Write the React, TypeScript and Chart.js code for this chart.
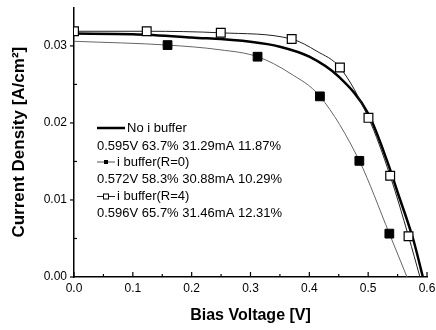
import React, { useEffect, useRef } from 'react';
import { Chart, registerables } from 'chart.js';
Chart.register(...registerables);

// ---- Data ----
const noBufferV = [0, 0.1, 0.2, 0.3, 0.35, 0.4, 0.45, 0.5, 0.532, 0.55, 0.577, 0.593];
const noBufferJ = [0.0316, 0.03153, 0.0311, 0.03054, 0.0299, 0.0286, 0.026, 0.0212, 0.0151, 0.011, 0.00477, 0];

const r0V = [0, 0.159, 0.248, 0.312, 0.367, 0.418, 0.485, 0.536, 0.566];
const r0J = [0.0306, 0.03011, 0.0295, 0.0286, 0.02646, 0.02345, 0.01508, 0.00563, 0];
const r0Marker = [0, 1, 0, 1, 0, 1, 1, 1, 0];

const r4V = [0, 0.1236, 0.2495, 0.37, 0.413, 0.452, 0.5005, 0.5374, 0.5686, 0.588];
const r4J = [0.0319, 0.0319, 0.0317, 0.03089, 0.0293, 0.02719, 0.02066, 0.01314, 0.00528, 0];
const r4Marker = [1, 1, 1, 1, 0, 1, 1, 1, 1, 0];

const seriesNames = ['No i buffer', 'i buffer(R=0)', 'i buffer(R=4)'];
const seriesStats = [
  '0.595V 63.7% 31.29mA 11.87%',
  '0.572V 58.3% 30.88mA 10.29%',
  '0.596V 65.7% 31.46mA 12.31%',
];

const xTicks = [0, 0.1, 0.2, 0.3, 0.4, 0.5, 0.6];
const xMinorTicks = [0.05, 0.15, 0.25, 0.35, 0.45, 0.55];
const yTicks = [0, 0.01, 0.02, 0.03];
const yMinorTicks = [0.005, 0.015, 0.025];

const xTitle = 'Bias Voltage [V]';
const yTitle = 'Current Density [A/cm\u00B2]';

const FONT = 'Arial, "Liberation Sans", Helvetica, sans-serif';

const toPoints = (xs: number[], ys: number[]) => xs.map((x, i) => ({ x, y: ys[i] }));

const tickPlugin = {
  id: 'tickMarks',
  afterDraw(chart: any) {
    const { ctx, chartArea } = chart;
    const xs = chart.scales.x;
    const ys = chart.scales.y;
    ctx.save();
    ctx.strokeStyle = '#000';
    ctx.lineWidth = 1.2;
    const seg = (x1: number, y1: number, x2: number, y2: number) => {
      ctx.beginPath();
      ctx.moveTo(x1, y1);
      ctx.lineTo(x2, y2);
      ctx.stroke();
    };
    xTicks.forEach((v) => {
      const p = xs.getPixelForValue(v);
      seg(p, chartArea.bottom, p, chartArea.bottom - 5);
    });
    xMinorTicks.forEach((v) => {
      const p = xs.getPixelForValue(v);
      seg(p, chartArea.bottom, p, chartArea.bottom - 3);
    });
    yTicks.forEach((v) => {
      const p = ys.getPixelForValue(v);
      seg(chartArea.left - 4, p, chartArea.left, p);
    });
    yMinorTicks.forEach((v) => {
      const p = ys.getPixelForValue(v);
      seg(chartArea.left, p, chartArea.left + 3, p);
    });
    ctx.restore();
  },
};

const legendPlugin = {
  id: 'customLegend',
  afterDraw(chart: any) {
    const { ctx } = chart;
    ctx.save();
    ctx.font = `13px ${FONT}`;
    ctx.fillStyle = '#000';
    ctx.textBaseline = 'middle';
    ctx.textAlign = 'left';
    const x0 = 97;
    const rows = [128, 146.5, 162, 179.5, 196.5, 213.5];
    // No i buffer
    ctx.strokeStyle = '#000';
    ctx.lineWidth = 2.5;
    ctx.beginPath();
    ctx.moveTo(x0, rows[0]);
    ctx.lineTo(125, rows[0]);
    ctx.stroke();
    ctx.fillText(seriesNames[0], 127, rows[0]);
    ctx.fillText(seriesStats[0], x0, rows[1]);
    // R=0
    ctx.strokeStyle = '#555';
    ctx.lineWidth = 1;
    ctx.beginPath();
    ctx.moveTo(x0, rows[2]);
    ctx.lineTo(115, rows[2]);
    ctx.stroke();
    ctx.fillStyle = '#000';
    ctx.fillRect(104, rows[2] - 2, 4, 4);
    ctx.fillText(seriesNames[1], 117, rows[2]);
    ctx.fillText(seriesStats[1], x0, rows[3]);
    // R=4
    ctx.strokeStyle = '#222';
    ctx.beginPath();
    ctx.moveTo(x0, rows[4]);
    ctx.lineTo(115, rows[4]);
    ctx.stroke();
    ctx.fillStyle = '#fff';
    ctx.fillRect(103.5, rows[4] - 2.5, 5, 5);
    ctx.strokeStyle = '#000';
    ctx.strokeRect(103.5, rows[4] - 2.5, 5, 5);
    ctx.fillStyle = '#000';
    ctx.fillText(seriesNames[2], 117, rows[4]);
    ctx.fillText(seriesStats[2], x0, rows[5]);
    ctx.restore();
  },
};

export default function App() {
  const ref = useRef<HTMLCanvasElement | null>(null);

  useEffect(() => {
    if (!ref.current) return;
    Chart.defaults.font.family = FONT;
    Chart.defaults.color = '#000';
    const chart = new Chart(ref.current, {
      type: 'line',
      data: {
        datasets: [
          {
            label: seriesNames[2],
            data: toPoints(r4V, r4J),
            borderColor: '#222',
            borderWidth: 1,
            cubicInterpolationMode: 'monotone',
            pointStyle: 'rect',
            pointRadius: r4Marker.map((m) => (m ? 6.2 : 0)),
            pointBackgroundColor: '#fff',
            pointBorderColor: '#000',
            pointBorderWidth: 1.2,
          },
          {
            label: seriesNames[1],
            data: toPoints(r0V, r0J),
            borderColor: '#666',
            borderWidth: 1,
            cubicInterpolationMode: 'monotone',
            pointStyle: 'rect',
            pointRadius: r0Marker.map((m) => (m ? 6.2 : 0)),
            pointBackgroundColor: '#000',
            pointBorderColor: '#000',
            pointBorderWidth: 1,
          },
          {
            label: seriesNames[0],
            data: toPoints(noBufferV, noBufferJ),
            borderColor: '#000',
            borderWidth: 2.5,
            cubicInterpolationMode: 'monotone',
            pointRadius: 0,
          },
        ],
      } as any,
      options: {
        animation: false,
        responsive: false,
        maintainAspectRatio: false,
        layout: { padding: { top: 5, right: 9, left: 0, bottom: 0 } },
        plugins: { legend: { display: false }, tooltip: { enabled: false } },
        scales: {
          x: {
            type: 'linear',
            min: 0,
            max: 0.6,
            grid: { display: false, drawTicks: false },
            border: { display: true, color: '#000', width: 1.5 },
            ticks: {
              padding: 4,
              font: { size: 12, family: FONT },
              color: '#000',
              callback: (v: any) => Number(v).toFixed(1),
            },
            title: {
              display: true,
              text: xTitle,
              font: { size: 16, weight: 'bold', family: FONT },
              color: '#000',
              padding: { top: 0, bottom: 5 },
            },
            afterBuildTicks: (s: any) => {
              s.ticks = xTicks.map((value) => ({ value }));
            },
            afterFit: (s: any) => {
              s.height = 53;
              s.paddingLeft = 0;
              s.paddingRight = 0;
            },
          },
          y: {
            type: 'linear',
            min: 0,
            max: 0.035,
            grid: { display: false, drawTicks: false },
            border: { display: true, color: '#000', width: 1.5 },
            ticks: {
              padding: 7,
              font: { size: 12, family: FONT },
              color: '#000',
              callback: (v: any) => Number(v).toFixed(2),
            },
            title: {
              display: true,
              text: yTitle,
              font: { size: 17, weight: 'bold', family: FONT },
              color: '#000',
              padding: { top: 9, bottom: 0 },
            },
            afterBuildTicks: (s: any) => {
              s.ticks = yTicks.map((value) => ({ value }));
            },
            afterFit: (s: any) => {
              s.width = 74;
              s.paddingTop = 0;
              s.paddingBottom = 0;
            },
          },
        },
      } as any,
      plugins: [tickPlugin, legendPlugin],
    });
    return () => chart.destroy();
  }, []);

  return (
    <div style={{ position: 'absolute', left: 0, top: 0, width: 436, height: 330, background: '#fff' }}>
      <canvas ref={ref} width={436} height={330} style={{ display: 'block' }} />
    </div>
  );
}
